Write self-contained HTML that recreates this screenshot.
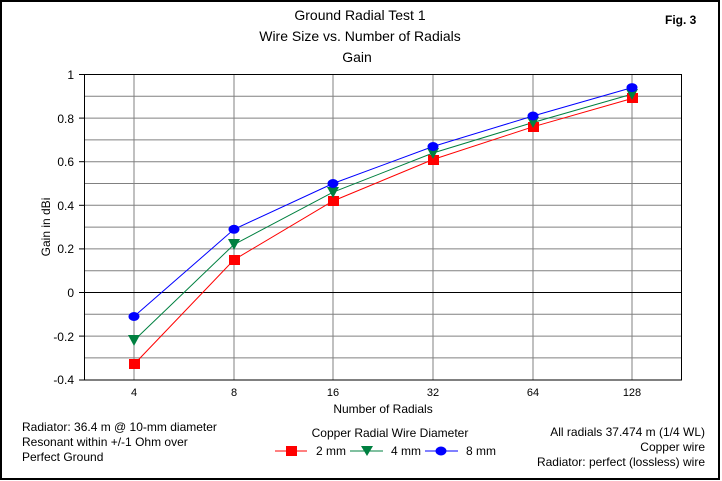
<!DOCTYPE html>
<html><head><style>body{margin:0;background:#fff}svg{display:block}text{font-family:"Liberation Sans",sans-serif;font-size:12px;fill:#000}</style></head><body>
<svg width="722" height="481" xmlns="http://www.w3.org/2000/svg">
<rect x="1" y="1" width="718" height="478" fill="#fff" stroke="#000" stroke-width="2"/>
<text x="360" y="20" text-anchor="middle" font-size="14" style="font-size:14px">Ground Radial Test 1</text>
<text x="360" y="41" text-anchor="middle" style="font-size:14px">Wire Size vs. Number of Radials</text>
<text x="357" y="62" text-anchor="middle" style="font-size:14px">Gain</text>
<text x="665" y="24" text-anchor="start" style="font-size:12px;font-weight:bold">Fig. 3</text>
<g stroke="#808080" stroke-width="1">
<line x1="84" x2="682" y1="96.3" y2="96.3"/><line x1="84" x2="682" y1="118.1" y2="118.1"/><line x1="84" x2="682" y1="139.9" y2="139.9"/><line x1="84" x2="682" y1="161.7" y2="161.7"/><line x1="84" x2="682" y1="183.5" y2="183.5"/><line x1="84" x2="682" y1="205.3" y2="205.3"/><line x1="84" x2="682" y1="227.1" y2="227.1"/><line x1="84" x2="682" y1="248.9" y2="248.9"/><line x1="84" x2="682" y1="270.7" y2="270.7"/><line x1="84" x2="682" y1="314.3" y2="314.3"/><line x1="84" x2="682" y1="336.1" y2="336.1"/><line x1="84" x2="682" y1="357.9" y2="357.9"/>
<line x1="134" x2="134" y1="74.5" y2="380"/><line x1="234" x2="234" y1="74.5" y2="380"/><line x1="333" x2="333" y1="74.5" y2="380"/><line x1="433" x2="433" y1="74.5" y2="380"/><line x1="533" x2="533" y1="74.5" y2="380"/><line x1="632" x2="632" y1="74.5" y2="380"/>
</g>
<line x1="84" x2="682" y1="292.5" y2="292.5" stroke="#000"/>
<rect x="84.5" y="74.5" width="597" height="305.5" fill="none" stroke="#000"/>
<g stroke="#000"><line x1="79" x2="84" y1="74.5" y2="74.5"/><line x1="79" x2="84" y1="118.1" y2="118.1"/><line x1="79" x2="84" y1="161.7" y2="161.7"/><line x1="79" x2="84" y1="205.3" y2="205.3"/><line x1="79" x2="84" y1="248.9" y2="248.9"/><line x1="79" x2="84" y1="292.5" y2="292.5"/><line x1="79" x2="84" y1="336.1" y2="336.1"/><line x1="79" x2="84" y1="380" y2="380"/></g>
<g text-anchor="end"><text x="74" y="79">1</text><text x="74" y="123">0.8</text><text x="74" y="166">0.6</text><text x="74" y="210">0.4</text><text x="74" y="253">0.2</text><text x="74" y="297">0</text><text x="74" y="341">-0.2</text><text x="74" y="384">-0.4</text></g>
<text transform="translate(50,227) rotate(-90)" text-anchor="middle">Gain in dBi</text>
<g text-anchor="middle" style="font-size:11px"><text x="134" y="396" style="font-size:11px">4</text><text x="234" y="396" style="font-size:11px">8</text><text x="333" y="396" style="font-size:11px">16</text><text x="433" y="396" style="font-size:11px">32</text><text x="533" y="396" style="font-size:11px">64</text><text x="632" y="396" style="font-size:11px">128</text></g>
<text x="383" y="413" text-anchor="middle">Number of Radials</text>
<polyline fill="none" stroke="#f00" points="134,364.4 234,259.8 333,201 433,159.5 533,126.8 632,98.5"/>
<polyline fill="none" stroke="#008040" points="134,340.5 234,244.5 333,192.2 433,153 533,122.5 632,94.1"/>
<polyline fill="none" stroke="#00f" points="134,316.5 234,229.3 333,183.5 433,146.5 533,116 632,87.6"/>
<g fill="#f00"><rect x="129" y="359" width="11" height="10"/><rect x="229" y="255" width="11" height="10"/><rect x="328" y="196" width="11" height="10"/><rect x="428" y="155" width="11" height="10"/><rect x="528" y="122" width="11" height="10"/><rect x="627" y="93" width="11" height="10"/></g>
<g fill="#008040"><polygon points="128,335 140,335 134,346"/><polygon points="228,239 240,239 234,250"/><polygon points="327,187 339,187 333,198"/><polygon points="427,148 439,148 433,159"/><polygon points="527,117 539,117 533,128"/><polygon points="626,89 638,89 632,100"/></g>
<g fill="#00f"><ellipse cx="134" cy="316.5" rx="5.5" ry="4.5"/><ellipse cx="234" cy="229.3" rx="5.5" ry="4.5"/><ellipse cx="333" cy="183.5" rx="5.5" ry="4.5"/><ellipse cx="433" cy="146.5" rx="5.5" ry="4.5"/><ellipse cx="533" cy="116" rx="5.5" ry="4.5"/><ellipse cx="632" cy="87.6" rx="5.5" ry="4.5"/></g>
<text x="22" y="431">Radiator: 36.4 m @ 10-mm diameter</text>
<text x="22" y="446">Resonant within +/-1 Ohm over</text>
<text x="22" y="461">Perfect Ground</text>
<text x="390" y="437" text-anchor="middle">Copper Radial Wire Diameter</text>
<line x1="275" x2="307" y1="451" y2="451" stroke="#f00"/><rect x="286" y="446" width="11" height="10" fill="#f00"/><text x="316" y="455">2 mm</text>
<line x1="350" x2="383" y1="451" y2="451" stroke="#008040"/><polygon points="361,446 373,446 367,456" fill="#008040"/><text x="391" y="455">4 mm</text>
<line x1="425" x2="458" y1="451" y2="451" stroke="#00f"/><ellipse cx="441" cy="451" rx="5.5" ry="4.5" fill="#00f"/><text x="466" y="455">8 mm</text>
<g text-anchor="end"><text x="705" y="436">All radials 37.474 m (1/4 WL)</text><text x="705" y="451">Copper wire</text><text x="705" y="466">Radiator: perfect (lossless) wire</text></g>
</svg>
</body></html>
